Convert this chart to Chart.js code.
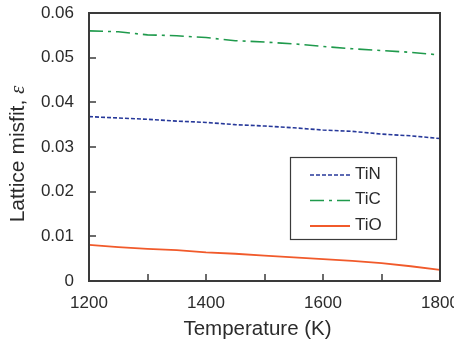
<!DOCTYPE html>
<html>
<head>
<meta charset="utf-8">
<script src="https://cdn.jsdelivr.net/npm/chart.js@4/dist/chart.umd.min.js"></script>
<style>
html,body{margin:0;padding:0;background:#fff;}
#wrap{width:454px;height:345px;position:relative;}
</style>
</head>
<body>
<div id="wrap"><canvas id="c" width="454" height="345"></canvas></div>
<script>
const temperatures = [1200, 1250, 1300, 1350, 1400, 1450, 1500, 1550, 1600, 1650, 1700, 1750, 1800];
const tiN = [0.0368, 0.0365, 0.0362, 0.0358, 0.0355, 0.0350, 0.0347, 0.0343, 0.0338, 0.0335, 0.0329, 0.0325, 0.0319];
const tiC = [0.0560, 0.0558, 0.0551, 0.0549, 0.0545, 0.0538, 0.0535, 0.0531, 0.0525, 0.0520, 0.0516, 0.0512, 0.0506];
const tiO = [0.0081, 0.0076, 0.0072, 0.0069, 0.0064, 0.0061, 0.0057, 0.0053, 0.0049, 0.0045, 0.0040, 0.0033, 0.0025];
const seriesNames = ['TiN', 'TiC', 'TiO'];
const xTitle = 'Temperature (K)';
const yTitleMain = 'Lattice misfit, ';
const yTitleSymbol = 'ε';

const FONT = "'Liberation Sans', Arial, Helvetica, sans-serif";
const TEXT = '#2b2b2b';

const toPts = arr => arr.map((v, i) => ({x: temperatures[i], y: v}));

const framePlugin = {
  id: 'frame',
  afterDraw(chart) {
    const {ctx, chartArea: a, scales: {x, y}} = chart;
    ctx.save();
    ctx.strokeStyle = '#3a3a3a';
    ctx.lineWidth = 2;
    ctx.strokeRect(a.left, a.top, a.right - a.left, a.bottom - a.top);
    ctx.lineWidth = 1.5;
    x.ticks.forEach(t => {
      const px = Math.round(x.getPixelForValue(t.value));
      if (px <= a.left + 1 || px >= a.right - 1) return;
      ctx.beginPath(); ctx.moveTo(px, a.bottom); ctx.lineTo(px, a.bottom - 7); ctx.stroke();
    });
    y.ticks.forEach(t => {
      const py = Math.round(y.getPixelForValue(t.value));
      if (py <= a.top + 1 || py >= a.bottom - 1) return;
      ctx.beginPath(); ctx.moveTo(a.left, py); ctx.lineTo(a.left + 7, py); ctx.stroke();
    });

    // x axis title
    ctx.fillStyle = TEXT;
    ctx.font = '20.5px ' + FONT;
    ctx.textAlign = 'center';
    ctx.textBaseline = 'alphabetic';
    ctx.fillText(xTitle, (a.left + a.right) / 2 - 7, 335);

    // y axis title with italic symbol
    ctx.textBaseline = 'middle';
    ctx.textAlign = 'left';
    const f1 = '21px ' + FONT;
    const f2 = 'italic 21px "Liberation Serif", "Times New Roman", serif';
    ctx.font = f1; const w1 = ctx.measureText(yTitleMain).width;
    ctx.font = f2; const w2 = ctx.measureText(yTitleSymbol).width;
    const cy = (a.top + a.bottom) / 2 + 7;
    ctx.translate(18, cy);
    ctx.rotate(-Math.PI / 2);
    const start = -(w1 + w2) / 2;
    ctx.font = f1; ctx.fillText(yTitleMain, start, 0);
    ctx.font = f2; ctx.fillText(yTitleSymbol, start + w1, 0);
    ctx.restore();

    // legend box
    ctx.save();
    const bx = 290, by = 157, bw = 106, bh = 82;
    ctx.strokeStyle = '#3a3a3a';
    ctx.lineWidth = 1.2;
    ctx.strokeRect(bx + 0.5, by + 0.5, bw, bh);
    chart.data.datasets.forEach((ds, i) => {
      const ly = 175 + i * 25.5;
      ctx.strokeStyle = ds.borderColor;
      ctx.lineWidth = ds.borderWidth;
      ctx.setLineDash(ds.borderDash || []);
      ctx.beginPath(); ctx.moveTo(310, ly); ctx.lineTo(350, ly); ctx.stroke();
      ctx.setLineDash([]);
      ctx.fillStyle = TEXT;
      ctx.font = '17px ' + FONT;
      ctx.textAlign = 'left';
      ctx.textBaseline = 'middle';
      ctx.fillText(ds.label, 355, ly - 1);
    });
    ctx.restore();
  }
};

new Chart(document.getElementById('c'), {
  type: 'line',
  data: {
    datasets: [
      {label: seriesNames[0], data: toPts(tiN), borderColor: '#27399a', borderWidth: 1.6, borderDash: [4, 2]},
      {label: seriesNames[1], data: toPts(tiC), borderColor: '#1f9a4c', borderWidth: 1.6, borderDash: [14, 5, 3, 5]},
      {label: seriesNames[2], data: toPts(tiO), borderColor: '#f15a2b', borderWidth: 1.8}
    ]
  },
  options: {
    responsive: false,
    animation: false,
    devicePixelRatio: 1,
    layout: {padding: {left: 0, right: 14, top: 13, bottom: 0}},
    elements: {point: {radius: 0}, line: {tension: 0, fill: false}},
    plugins: {legend: {display: false}, tooltip: {enabled: false}},
    scales: {
      x: {
        type: 'linear', min: 1200, max: 1800,
        grid: {display: false, drawTicks: false},
        border: {display: false},
        ticks: {
          stepSize: 100, padding: 12, color: TEXT, autoSkip: false, maxRotation: 0,
          font: {family: FONT, size: 17},
          callback: v => (v % 200 === 0 ? String(v) : '')
        },
        title: {display: false},
        afterFit(s) { s.height = 64; s.paddingLeft = 0; s.paddingRight = 0; }
      },
      y: {
        min: 0, max: 0.06,
        grid: {display: false, drawTicks: false},
        border: {display: false},
        ticks: {
          stepSize: 0.01, padding: 15, color: TEXT,
          font: {family: FONT, size: 17},
          callback: v => (Math.abs(v) < 1e-9 ? '0' : v.toFixed(2))
        },
        title: {display: false},
        afterFit(s) { s.width = 89; s.paddingTop = 0; s.paddingBottom = 0; }
      }
    }
  },
  plugins: [framePlugin]
});
</script>
</body>
</html>
